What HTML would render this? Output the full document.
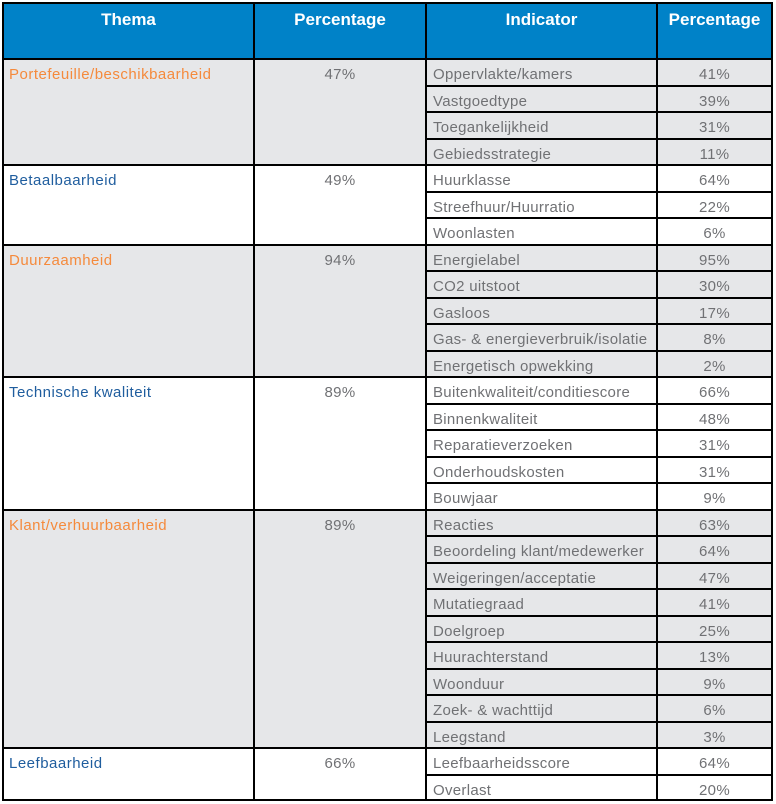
<!DOCTYPE html>
<html>
<head>
<meta charset="utf-8">
<style>
  html,body{margin:0;padding:0;background:#fff;}
  body{width:776px;height:804px;position:relative;overflow:hidden;font-family:"Liberation Sans",Arial,sans-serif;}
  .a{position:absolute;}
  .ln{position:absolute;background:#000;}
  .hd{position:absolute;top:10px;height:20px;line-height:20px;font-size:17px;font-weight:bold;color:#fff;text-align:center;}
  .t{position:absolute;height:20px;line-height:20px;font-size:15px;letter-spacing:0.3px;white-space:nowrap;margin-top:1.5px;}
  .th{left:9px;letter-spacing:0.5px;}
  .or{color:#f58a3c;}
  .bl{color:#1f5d9e;}
  .p2{left:255px;width:170px;text-align:center;color:#707174;}
  .ind{left:433px;color:#707174;}
  .p4{left:658px;width:113px;text-align:center;color:#707174;}
</style>
</head>
<body>
<!-- header fill -->
<div class="a" style="left:2px;top:2px;width:771px;height:58px;background:#0082c8;"></div>
<!-- gray group fills -->
<div class="a" style="left:2px;top:58px;width:771px;height:108px;background:#e6e7e9;"></div>
<div class="a" style="left:2px;top:243.5px;width:771px;height:134.5px;background:#e6e7e9;"></div>
<div class="a" style="left:2px;top:508.5px;width:771px;height:240.5px;background:#e6e7e9;"></div>

<!-- header text -->
<div class="hd" style="left:4px;width:249px;">Thema</div>
<div class="hd" style="left:255px;width:170px;">Percentage</div>
<div class="hd" style="left:427px;width:229px;">Indicator</div>
<div class="hd" style="left:658px;width:113px;">Percentage</div>

<!-- outer borders -->
<div class="ln" style="left:2px;top:2px;width:771px;height:2px;"></div>
<div class="ln" style="left:2px;top:799px;width:771px;height:2px;"></div>
<div class="ln" style="left:2px;top:2px;width:2px;height:799px;"></div>
<div class="ln" style="left:771px;top:2px;width:2px;height:799px;"></div>
<!-- column lines -->
<div class="ln" style="left:253px;top:2px;width:2px;height:799px;"></div>
<div class="ln" style="left:425px;top:2px;width:2px;height:799px;"></div>
<div class="ln" style="left:656px;top:2px;width:2px;height:799px;"></div>
<!-- header bottom + group lines (full width) -->
<div class="ln" style="left:2px;top:58px;width:771px;height:2px;"></div>
<div class="ln" style="left:2px;top:164px;width:771px;height:2px;"></div>
<div class="ln" style="left:2px;top:243.5px;width:771px;height:2px;"></div>
<div class="ln" style="left:2px;top:376px;width:771px;height:2px;"></div>
<div class="ln" style="left:2px;top:508.5px;width:771px;height:2px;"></div>
<div class="ln" style="left:2px;top:747px;width:771px;height:2px;"></div>
<!-- indicator row lines -->
<div class="ln" style="left:425px;top:84.5px;width:348px;height:2px;"></div>
<div class="ln" style="left:425px;top:111px;width:348px;height:2px;"></div>
<div class="ln" style="left:425px;top:137.5px;width:348px;height:2px;"></div>
<div class="ln" style="left:425px;top:190.5px;width:348px;height:2px;"></div>
<div class="ln" style="left:425px;top:217px;width:348px;height:2px;"></div>
<div class="ln" style="left:425px;top:270px;width:348px;height:2px;"></div>
<div class="ln" style="left:425px;top:296.5px;width:348px;height:2px;"></div>
<div class="ln" style="left:425px;top:323px;width:348px;height:2px;"></div>
<div class="ln" style="left:425px;top:349.5px;width:348px;height:2px;"></div>
<div class="ln" style="left:425px;top:402.5px;width:348px;height:2px;"></div>
<div class="ln" style="left:425px;top:429px;width:348px;height:2px;"></div>
<div class="ln" style="left:425px;top:455.5px;width:348px;height:2px;"></div>
<div class="ln" style="left:425px;top:482px;width:348px;height:2px;"></div>
<div class="ln" style="left:425px;top:535px;width:348px;height:2px;"></div>
<div class="ln" style="left:425px;top:561.5px;width:348px;height:2px;"></div>
<div class="ln" style="left:425px;top:588px;width:348px;height:2px;"></div>
<div class="ln" style="left:425px;top:614.5px;width:348px;height:2px;"></div>
<div class="ln" style="left:425px;top:641px;width:348px;height:2px;"></div>
<div class="ln" style="left:425px;top:667.5px;width:348px;height:2px;"></div>
<div class="ln" style="left:425px;top:694px;width:348px;height:2px;"></div>
<div class="ln" style="left:425px;top:720.5px;width:348px;height:2px;"></div>
<div class="ln" style="left:425px;top:773.5px;width:348px;height:2px;"></div>

<!-- Theme texts -->
<div class="t th or" style="top:63.8px;">Portefeuille/beschikbaarheid</div>
<div class="t p2" style="top:63.8px;">47%</div>
<div class="t th bl" style="top:169.8px;">Betaalbaarheid</div>
<div class="t p2" style="top:169.8px;">49%</div>
<div class="t th or" style="top:249.3px;">Duurzaamheid</div>
<div class="t p2" style="top:249.3px;">94%</div>
<div class="t th bl" style="top:381.8px;">Technische kwaliteit</div>
<div class="t p2" style="top:381.8px;">89%</div>
<div class="t th or" style="top:514.3px;">Klant/verhuurbaarheid</div>
<div class="t p2" style="top:514.3px;">89%</div>
<div class="t th bl" style="top:752.8px;">Leefbaarheid</div>
<div class="t p2" style="top:752.8px;">66%</div>

<!-- Indicators -->
<div class="t ind" style="top:63.8px;">Oppervlakte/kamers</div><div class="t p4" style="top:63.8px;">41%</div>
<div class="t ind" style="top:90.3px;">Vastgoedtype</div><div class="t p4" style="top:90.3px;">39%</div>
<div class="t ind" style="top:116.8px;">Toegankelijkheid</div><div class="t p4" style="top:116.8px;">31%</div>
<div class="t ind" style="top:143.3px;">Gebiedsstrategie</div><div class="t p4" style="top:143.3px;">11%</div>
<div class="t ind" style="top:169.8px;">Huurklasse</div><div class="t p4" style="top:169.8px;">64%</div>
<div class="t ind" style="top:196.3px;">Streefhuur/Huurratio</div><div class="t p4" style="top:196.3px;">22%</div>
<div class="t ind" style="top:222.8px;">Woonlasten</div><div class="t p4" style="top:222.8px;">6%</div>
<div class="t ind" style="top:249.3px;">Energielabel</div><div class="t p4" style="top:249.3px;">95%</div>
<div class="t ind" style="top:275.8px;">CO2 uitstoot</div><div class="t p4" style="top:275.8px;">30%</div>
<div class="t ind" style="top:302.3px;">Gasloos</div><div class="t p4" style="top:302.3px;">17%</div>
<div class="t ind" style="top:328.8px;">Gas- &amp; energieverbruik/isolatie</div><div class="t p4" style="top:328.8px;">8%</div>
<div class="t ind" style="top:355.3px;">Energetisch opwekking</div><div class="t p4" style="top:355.3px;">2%</div>
<div class="t ind" style="top:381.8px;">Buitenkwaliteit/conditiescore</div><div class="t p4" style="top:381.8px;">66%</div>
<div class="t ind" style="top:408.3px;">Binnenkwaliteit</div><div class="t p4" style="top:408.3px;">48%</div>
<div class="t ind" style="top:434.8px;">Reparatieverzoeken</div><div class="t p4" style="top:434.8px;">31%</div>
<div class="t ind" style="top:461.3px;">Onderhoudskosten</div><div class="t p4" style="top:461.3px;">31%</div>
<div class="t ind" style="top:487.8px;">Bouwjaar</div><div class="t p4" style="top:487.8px;">9%</div>
<div class="t ind" style="top:514.3px;">Reacties</div><div class="t p4" style="top:514.3px;">63%</div>
<div class="t ind" style="top:540.8px;">Beoordeling klant/medewerker</div><div class="t p4" style="top:540.8px;">64%</div>
<div class="t ind" style="top:567.3px;">Weigeringen/acceptatie</div><div class="t p4" style="top:567.3px;">47%</div>
<div class="t ind" style="top:593.8px;">Mutatiegraad</div><div class="t p4" style="top:593.8px;">41%</div>
<div class="t ind" style="top:620.3px;">Doelgroep</div><div class="t p4" style="top:620.3px;">25%</div>
<div class="t ind" style="top:646.8px;">Huurachterstand</div><div class="t p4" style="top:646.8px;">13%</div>
<div class="t ind" style="top:673.3px;">Woonduur</div><div class="t p4" style="top:673.3px;">9%</div>
<div class="t ind" style="top:699.8px;">Zoek- &amp; wachttijd</div><div class="t p4" style="top:699.8px;">6%</div>
<div class="t ind" style="top:726.3px;">Leegstand</div><div class="t p4" style="top:726.3px;">3%</div>
<div class="t ind" style="top:752.8px;">Leefbaarheidsscore</div><div class="t p4" style="top:752.8px;">64%</div>
<div class="t ind" style="top:779.3px;">Overlast</div><div class="t p4" style="top:779.3px;">20%</div>
</body>
</html>
